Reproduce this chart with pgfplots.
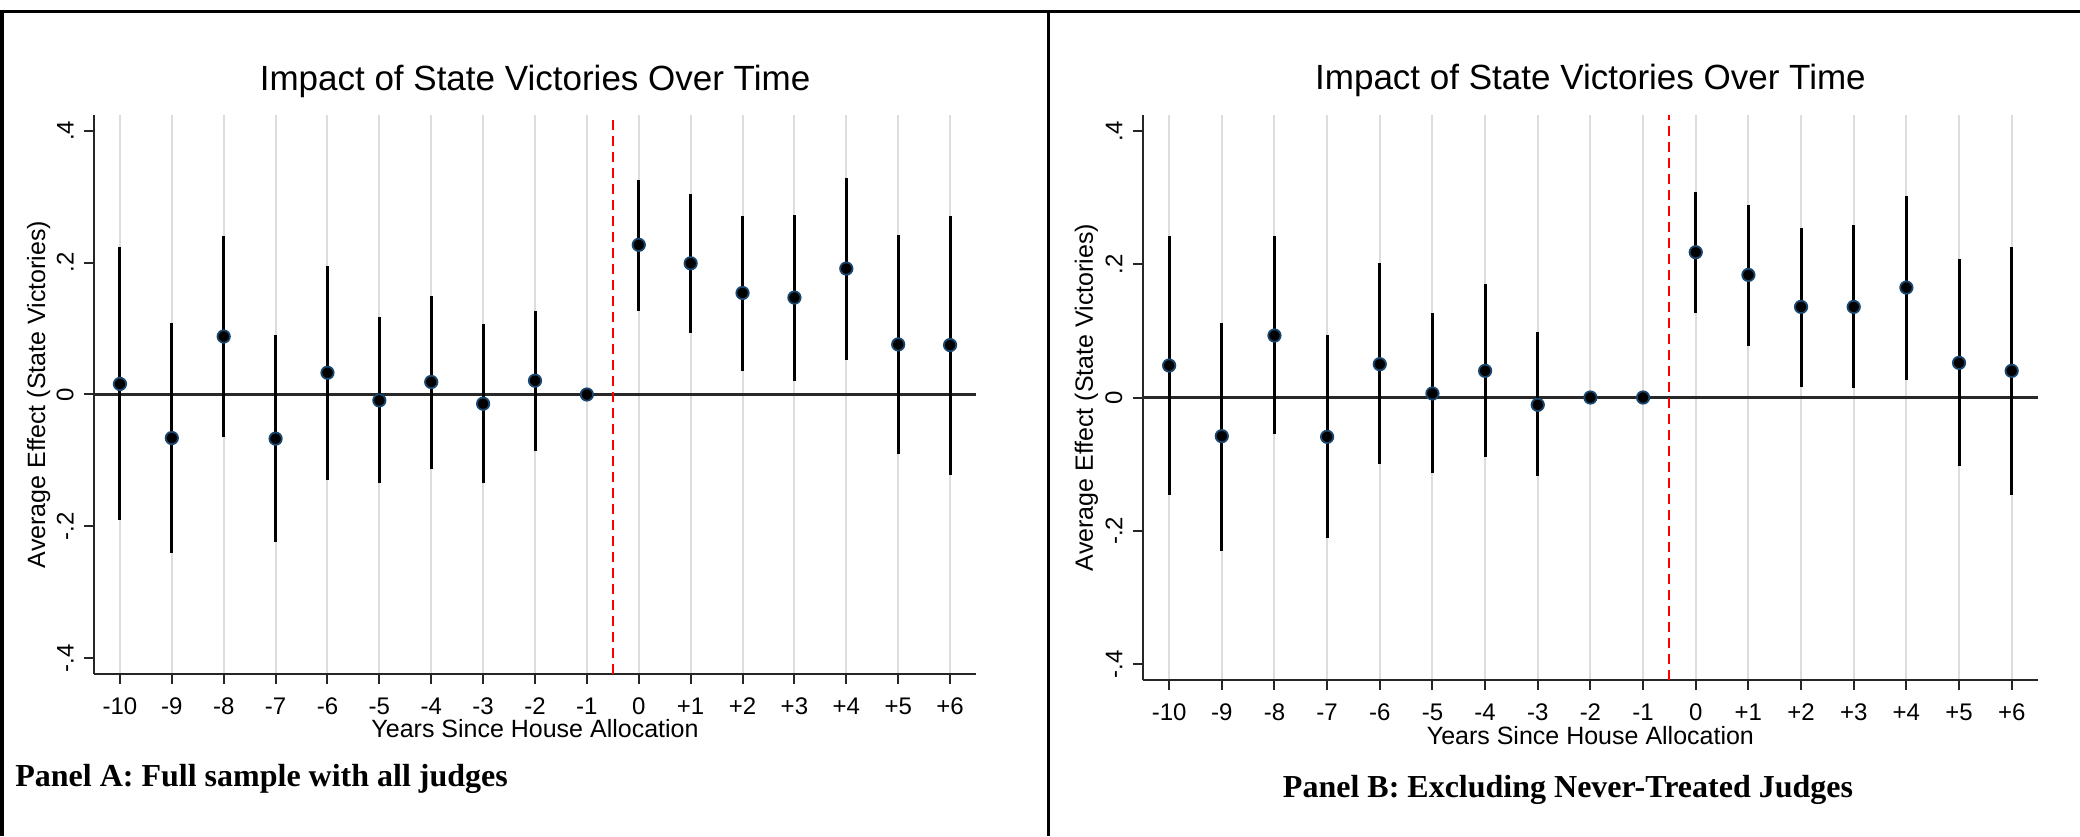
\documentclass[border=0pt]{standalone}
\usepackage{pgfplots}
\pgfplotsset{compat=1.18}
\usepackage{pgfplotstable}
\usepackage{fontspec}
\setmainfont{Liberation Sans}
\newfontfamily\timesfont{Liberation Serif}

\definecolor{stnavy}{RGB}{26,71,111}
\definecolor{gridgray}{RGB}{221,221,221}
\definecolor{zeroline}{RGB}{40,40,40}

\pgfplotstableread{
x y lo hi
-10 0.016 -0.191 0.223
-9 -0.066 -0.240 0.109
-8 0.088 -0.065 0.241
-7 -0.067 -0.224 0.091
-6 0.033 -0.129 0.195
-5 -0.009 -0.135 0.118
-4 0.019 -0.113 0.150
-3 -0.014 -0.135 0.107
-2 0.021 -0.086 0.127
-1 0 0 0
0 0.227 0.127 0.326
1 0.199 0.093 0.304
2 0.154 0.036 0.271
3 0.147 0.020 0.273
4 0.191 0.053 0.328
5 0.076 -0.090 0.242
6 0.075 -0.122 0.271
}\panelA

\pgfplotstableread{
x y lo hi
-10 0.048 -0.146 0.242
-9 -0.058 -0.230 0.112
-8 0.093 -0.055 0.242
-7 -0.059 -0.211 0.094
-6 0.050 -0.100 0.202
-5 0.006 -0.113 0.127
-4 0.040 -0.089 0.171
-3 -0.011 -0.118 0.098
-2 0 0 0
-1 0 0 0
0 0.218 0.127 0.309
1 0.184 0.078 0.289
2 0.136 0.016 0.255
3 0.136 0.014 0.259
4 0.165 0.027 0.303
5 0.052 -0.103 0.208
6 0.040 -0.147 0.226
}\panelB

\pgfplotsset{
  stataevent/.style={
    scale only axis,
    anchor=south west,
    xmin=-10.5, xmax=6.5,
    ymin=-0.424, ymax=0.424,
    axis lines*=left,
    axis line style={line width=1pt, black!85},
    tick align=outside,
    major tick length=5pt,
    tick style={line width=1pt, black!85},
    xtick={-10,-9,-8,-7,-6,-5,-4,-3,-2,-1,0,1,2,3,4,5,6},
    xticklabels={-10,-9,-8,-7,-6,-5,-4,-3,-2,-1,0,+1,+2,+3,+4,+5,+6},
    ytick={-0.4,-0.2,0,0.2,0.4},
    yticklabels={-.4,-.2,0,.2,.4},
    xmajorgrids,
    major grid style={line width=1pt, gridgray},
    xticklabel style={font=\fontsize{12}{14}\selectfont, inner sep=0pt, anchor=base},
    yticklabel style={font=\fontsize{12}{14}\selectfont, inner sep=0pt, rotate=90, anchor=south},
    title style={font=\fontsize{17.5}{20}\selectfont, inner sep=0pt, anchor=base},
    xlabel style={font=\fontsize{12.5}{15}\selectfont, inner sep=0pt, anchor=base},
    ylabel style={font=\fontsize{12.5}{15}\selectfont, inner sep=0pt, anchor=base},
    clip=false,
    title={Impact of State Victories Over Time},
    xlabel={Years Since House Allocation},
    ylabel={Average Effect (State Victories)},
  },
  ciplot/.style={
    only marks,
    mark=*,
    mark size=3.1pt,
    mark options={fill=black, draw=stnavy, line width=0.9pt},
    error bars/.cd,
      y dir=both, y explicit,
      error mark=none,
      error bar style={line width=1.5pt, black},
  },
}

\begin{document}
\begin{tikzpicture}[x=1pt,y=1pt]
\path[use as bounding box] (0,0) rectangle (1040,418);
% frame
\draw[line width=1.6pt, black] (0,412.2) -- (1040,412.2);
\draw[line width=1.6pt, black] (1,412.2) -- (1,0);
\draw[line width=1.6pt, black] (524.3,412.2) -- (524.3,0);

% Panel A
\begin{axis}[stataevent,
  at={(47pt,81pt)}, width=441pt, height=279.5pt,
  xticklabel shift=15pt,
  yticklabel shift=5pt,
  title style={at={(axis description cs:0.5,1)}, yshift=6pt},
  xlabel style={at={(axis description cs:0.5,0)}, yshift=-31.85pt},
  ylabel style={at={(axis description cs:-0.05556,0.5)}},
]
\addplot[line width=1.3pt, zeroline, forget plot] coordinates {(-10.5,0) (6.5,0)};
\addplot[line width=1pt, red, dash pattern=on 5pt off 3pt, forget plot] coordinates {(-0.5,-0.424) (-0.5,0.424)};
\addplot[ciplot] table[x=x, y=y, y error plus expr=\thisrow{hi}-\thisrow{y}, y error minus expr=\thisrow{y}-\thisrow{lo}] {\panelA};
\end{axis}

% Panel B
\begin{axis}[stataevent,
  at={(571.4pt,78pt)}, width=447.6pt, height=282.5pt,
  xticklabel shift=15pt,
  yticklabel shift=5pt,
  title style={at={(axis description cs:0.5,1)}, yshift=6.6pt},
  xlabel style={at={(axis description cs:0.5,0)}, yshift=-32pt},
  ylabel style={at={(axis description cs:-0.05585,0.5)}},
]
\addplot[line width=1.3pt, zeroline, forget plot] coordinates {(-10.5,0) (6.5,0)};
\addplot[line width=1pt, red, dash pattern=on 5pt off 3pt, forget plot] coordinates {(-0.5,-0.424) (-0.5,0.424)};
\addplot[ciplot] table[x=x, y=y, y error plus expr=\thisrow{hi}-\thisrow{y}, y error minus expr=\thisrow{y}-\thisrow{lo}] {\panelB};
\end{axis}

% captions
\node[anchor=base west, inner sep=0pt, font=\timesfont\bfseries\fontsize{16}{19}\selectfont] at (7.5,25) {Panel A: Full sample with all judges};
\node[anchor=base, inner sep=0pt, font=\timesfont\bfseries\fontsize{16}{19}\selectfont] at (784,19.5) {Panel B: Excluding Never-Treated Judges};
\end{tikzpicture}
\end{document}
